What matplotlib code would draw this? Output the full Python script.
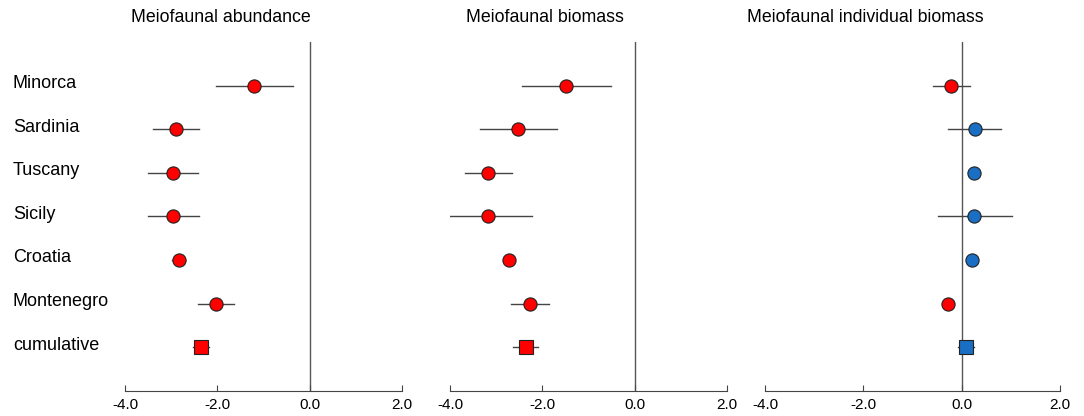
import numpy as np
import matplotlib
matplotlib.use("Agg")
import matplotlib.pyplot as plt
import matplotlib.transforms as mtransforms

plt.rcParams['font.family'] = ['Liberation Sans', 'DejaVu Sans']

sites = ["Minorca", "Sardinia", "Tuscany", "Sicily", "Croatia", "Montenegro", "cumulative"]
titles = ["Meiofaunal abundance", "Meiofaunal biomass", "Meiofaunal individual biomass"]

# effect size, lower CI, upper CI (nan = no bar visible)
abund = [-1.20, -2.89, -2.95, -2.95, -2.83, -2.03, -2.35]
abund_lo = [-2.03, -3.39, -3.50, -3.50, -2.98, -2.42, -2.52]
abund_hi = [-0.37, -2.40, -2.41, -2.40, -2.70, -1.63, -2.18]

biom = [-1.48, -2.52, -3.17, -3.17, -2.72, -2.26, -2.36]
biom_lo = [-2.43, -3.36, -3.68, -3.99, np.nan, -2.67, -2.64]
biom_hi = [-0.51, -1.69, -2.65, -2.23, np.nan, -1.85, -2.10]

indiv = [-0.22, 0.27, 0.26, 0.26, 0.21, -0.27, 0.09]
indiv_lo = [-0.59, -0.27, np.nan, -0.49, np.nan, np.nan, -0.07]
indiv_hi = [0.17, 0.81, np.nan, 1.02, np.nan, np.nan, 0.25]

RED = "#ff0000"
BLUE = "#1a6fc4"

fig = plt.figure(figsize=(10.84, 4.16), dpi=100)
rects = [[0.1153, 0.0601, 0.2555, 0.839],
         [0.4151, 0.0601, 0.2555, 0.839],
         [0.7057, 0.0601, 0.2721, 0.839]]
title_x = [221 / 1084, 545 / 1084, 865 / 1084]

ypos = np.arange(len(sites))[::-1] + 1

panels = [(abund, abund_lo, abund_hi), (biom, biom_lo, biom_hi), (indiv, indiv_lo, indiv_hi)]
for i, (vals, lo, hi) in enumerate(panels):
    ax = fig.add_axes(rects[i])
    vals = np.array(vals)
    lo = np.array(lo)
    hi = np.array(hi)
    ax.axvline(0, color="#555555", lw=1.0, zorder=1)
    for j in range(len(vals)):
        if not np.isnan(lo[j]):
            ax.plot([lo[j], hi[j]], [ypos[j], ypos[j]], color="#444444", lw=1.0, zorder=2)
        col = RED if vals[j] < 0 else BLUE
        marker = "s" if sites[j] == "cumulative" else "o"
        ax.plot(vals[j], ypos[j], marker=marker, ms=9.5, color=col,
                markeredgecolor="#222222", markeredgewidth=0.8, zorder=3, ls="none")
    ax.set_xlim(-4, 2)
    ax.set_ylim(0, 8)
    ax.set_xticks([-4, -2, 0, 2])
    ax.set_xticklabels(["-4.0", "-2.0", "0.0", "2.0"], fontsize=11)
    ax.set_yticks([])
    for s in ["top", "right", "left"]:
        ax.spines[s].set_visible(False)
    ax.spines["bottom"].set_color("#444444")
    ax.tick_params(axis="x", direction="in", length=4, color="#444444", pad=5)
    fig.text(title_x[i], 1 - 18 / 416, titles[i], ha="center", va="center", fontsize=12.8)
    if i == 0:
        trans = mtransforms.blended_transform_factory(fig.transFigure, ax.transData)
        for j, s in enumerate(sites):
            ax.text(13 / 1084, ypos[j] + 0.05, s, transform=trans, ha="left", va="center", fontsize=13)

fig.savefig("out.png", dpi=100)
